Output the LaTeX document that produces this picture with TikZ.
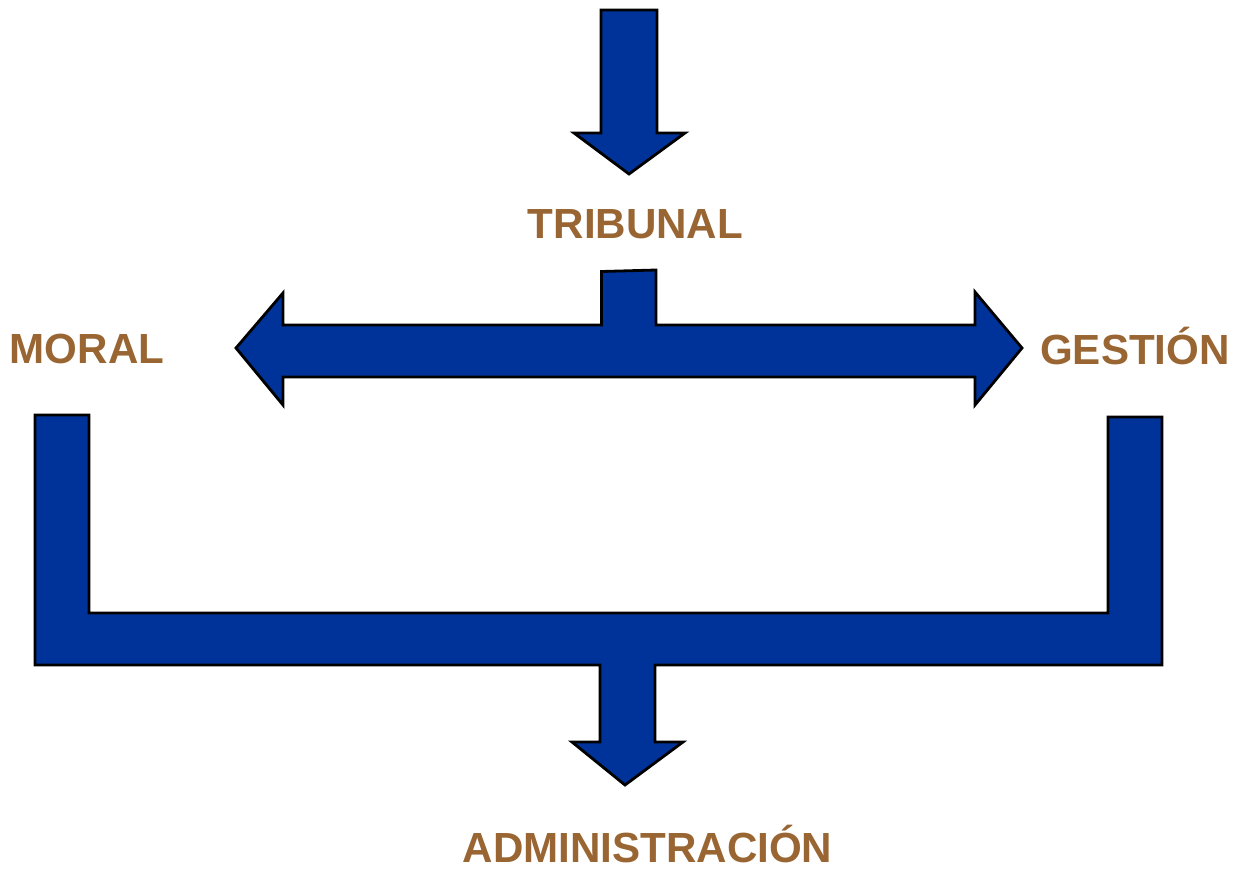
\documentclass[tikz,border=0pt]{standalone}
\usepackage{fontspec}
\setmainfont{Liberation Sans}
\definecolor{arrowblue}{RGB}{0,51,153}
\definecolor{labelbrown}{RGB}{153,102,51}
\tikzset{
  blockarrow/.style={fill=arrowblue, draw=black, line width=2.1pt, line join=miter},
  lbl/.style={text=labelbrown, font=\fontsize{31.6}{36}\selectfont\bfseries, inner sep=0pt, anchor=base, text depth=0pt}
}
\begin{document}
\begin{tikzpicture}[x=0.75pt,y=-0.75pt]
\useasboundingbox (0,0) rectangle (1238,872);
% top arrow
\draw[blockarrow] (601,10) -- (657,10) -- (657,133) -- (685,133) -- (629,174) -- (574,133) -- (601,133) -- cycle;
% double-headed arrow with stem
\draw[blockarrow] (601.5,271.5) -- (656,270) -- (656,325) -- (975,325) -- (975,292) -- (1022,348) -- (975,405) -- (975,377)
  -- (283,377) -- (283,405) -- (236,348) -- (283,293) -- (283,325) -- (601.5,325) -- cycle;
% bracket with down arrow
\draw[blockarrow] (35,415) -- (89,415) -- (89,613) -- (1108,613) -- (1108,417) -- (1162,417) -- (1162,665) -- (655,665)
  -- (655,742) -- (683,742) -- (625,785) -- (572,742) -- (600,742) -- (600,665) -- (35,665) -- cycle;
% labels
\node[lbl] (tribunal) at (635.5,238) {TRIBUNAL};
\node[lbl] (moral) at (87,363) {MORAL};
\node[lbl] (gestion) at (1135,364) {GESTIÓN};
\node[lbl] (admin) at (647.5,862) {ADMINISTRACIÓN};
\end{tikzpicture}
\end{document}
